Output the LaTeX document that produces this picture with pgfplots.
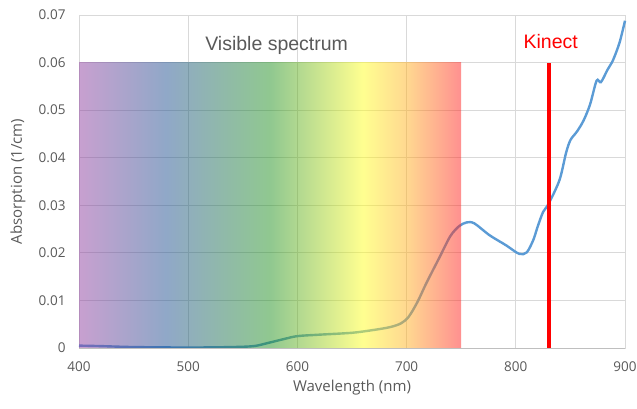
\documentclass[border=0pt]{standalone}
\usepackage{fontspec}
\setmainfont{Open Sans}
\newfontfamily\notefont{Liberation Sans}
\usepackage{pgfplots}
\pgfplotsset{compat=1.18}
\usetikzlibrary{calc}

\definecolor{txt}{HTML}{595959}
\definecolor{gridc}{HTML}{D9D9D9}
\definecolor{axc}{HTML}{BFBFBF}
\definecolor{curve}{HTML}{5B9BD5}
% spectrum stops (drawn at half opacity)
\definecolor{sp1}{RGB}{145,65,161}
\definecolor{sp2}{RGB}{33,81,145}
\definecolor{sp3}{RGB}{33,145,33}
\definecolor{sp4}{RGB}{255,255,33}
\definecolor{sp5}{RGB}{255,177,33}
\definecolor{sp6}{RGB}{255,33,33}
% 400 nm -> 25bp, 750 nm -> 75bp (7 nm per bp)
\pgfdeclarehorizontalshading{spectrum}{100bp}{%
  color(0bp)=(sp1); color(25bp)=(sp1); color(36.4bp)=(sp2);
  color(50bp)=(sp3); color(62.1bp)=(sp4); color(67.9bp)=(sp5);
  color(75bp)=(sp6); color(100bp)=(sp6)}

\begin{document}
\begin{tikzpicture}
\begin{axis}[
  name=ax,
  scale only axis,
  width=546bp, height=333bp,
  xmin=400, xmax=900, ymin=0, ymax=0.07,
  xtick={400,500,600,700,800,900},
  ytick={0,0.01,0.02,0.03,0.04,0.05,0.06,0.07},
  scaled y ticks=false,
  yticklabel style={/pgf/number format/fixed, /pgf/number format/precision=2, xshift=-10bp},
  xticklabel style={yshift=-10bp},
  ticklabel style={font=\fontsize{13.5bp}{13.5bp}\selectfont, text=txt},
  /pgf/number format/assume math mode=true,
  grid=major,
  major grid style={gridc, line width=0.9bp},
  axis line style={gridc, line width=0.9bp},
  tick style={draw=none},
  xlabel={Wavelength (nm)},
  ylabel={Absorption (1/cm)},
  every axis x label/.style={at={(axis description cs:0.5,0)}, yshift=-40bp, anchor=center,
    font=\fontsize{15bp}{15bp}\selectfont, text=txt},
  every axis y label/.style={at={(axis description cs:0,0.5)}, xshift=-61bp, rotate=90, anchor=center,
    font=\fontsize{15bp}{15bp}\selectfont, text=txt},
  clip=false,
]
  % absorption curve
  \addplot[curve, line width=2.4bp, smooth, tension=0.5] coordinates {
    (400,0.0005) (420,0.0004) (450,0.0002) (500,0.0001) (540,0.0002)
    (560,0.0004) (572,0.0010) (588,0.0019) (600,0.0025) (620,0.0028)
    (650,0.0032) (670,0.0038) (685,0.0044) (695,0.0052) (702,0.0066)
    (710,0.0097) (718,0.0136) (730,0.0190) (740,0.0235) (748,0.0256)
    (755,0.0264) (762,0.0262) (776,0.0237) (791,0.0216) (803,0.0198)
    (810,0.0201) (816,0.0227) (820,0.0255) (825,0.0286) (830,0.0303)
    (840,0.0353) (846,0.0410) (850,0.0437) (856,0.0455) (862,0.0478)
    (868,0.0512) (874,0.0562) (878,0.0559) (884,0.0585) (889,0.0605)
    (895,0.0642) (900,0.0688)
  };
  % visible spectrum band
  \shade[shading=spectrum, opacity=0.5] (axis cs:400,0) rectangle (axis cs:750,0.06);
  \node[font=\notefont\fontsize{19.5bp}{19.5bp}\selectfont, text=txt] at (axis cs:581,0.0637) {Visible spectrum};
  % Kinect wavelength
  \addplot[red, line width=4bp] coordinates {(830,0) (830,0.06)};
  \node[font=\notefont\fontsize{19.5bp}{19.5bp}\selectfont, text=red] at (axis cs:832,0.0645) {Kinect};
  \draw[axc, line width=0.9bp] (rel axis cs:0,0) -- (rel axis cs:1,0);
\end{axis}
\pgfresetboundingbox
\path ($(ax.south west)+(-79bp,-60bp)$) rectangle ($(ax.north east)+(12bp,15bp)$);
\end{tikzpicture}
\end{document}
